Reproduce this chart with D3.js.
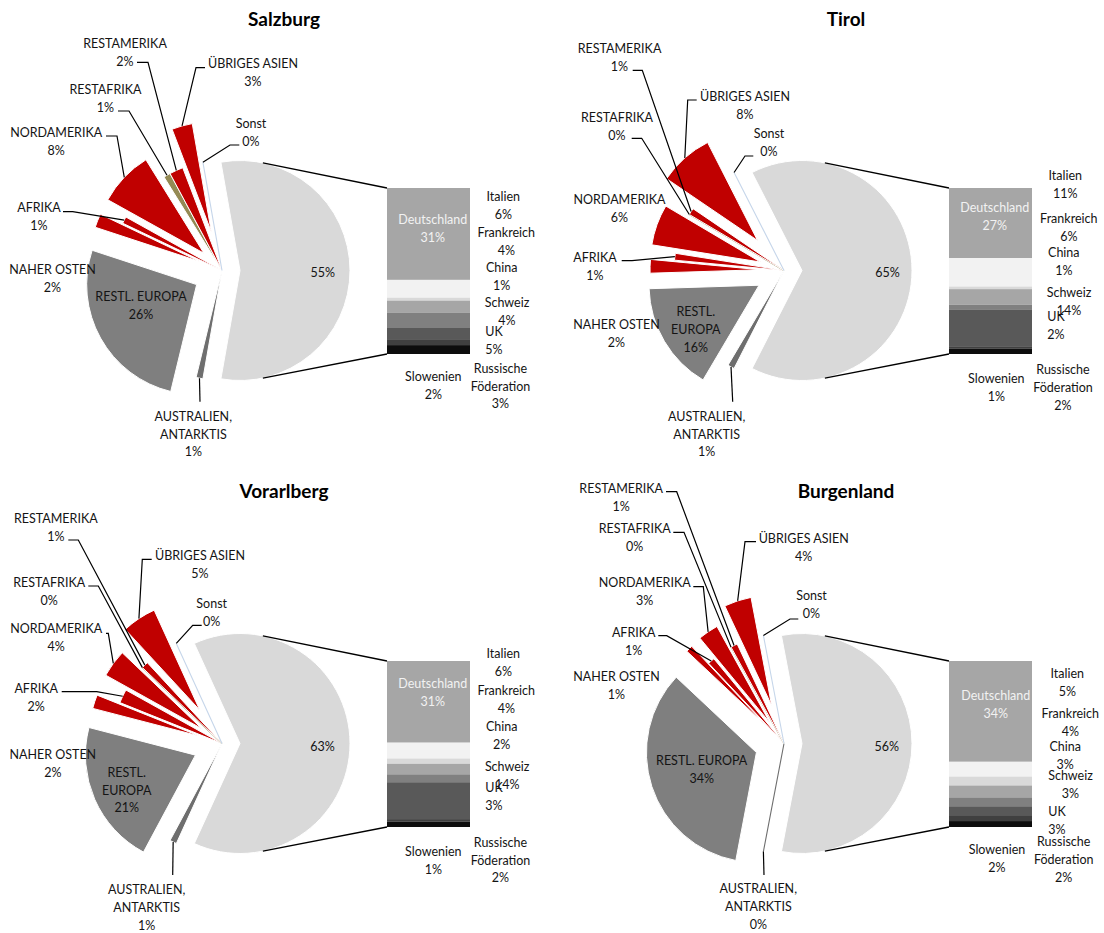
<!DOCTYPE html>
<html>
<head>
<meta charset="utf-8">
<script src="https://cdn.jsdelivr.net/npm/d3@7"></script>
<style>
  html, body { margin: 0; padding: 0; background: #ffffff; }
  svg { display: block; font-family: Lato, "Open Sans", sans-serif; }
</style>
</head>
<body>
<svg id="chart" width="1104" height="933"></svg>
<script>
// ---- Data -------------------------------------------------------------
const regions = ["Salzburg", "Tirol", "Vorarlberg", "Burgenland"];

// Pie categories (the first one is the aggregate broken down in the bar)
const pieCategories = ["Top-Märkte", "AUSTRALIEN, ANTARKTIS", "RESTL. EUROPA", "NAHER OSTEN",
  "AFRIKA", "NORDAMERIKA", "RESTAFRIKA", "RESTAMERIKA", "ÜBRIGES ASIEN", "Sonst"];

const salzburgPie   = [55, 1, 26, 2, 1, 8, 1, 2, 3, 0];
const tirolPie      = [65, 1, 16, 2, 1, 6, 0, 1, 8, 0];
const vorarlbergPie = [63, 1, 21, 2, 2, 4, 0, 1, 5, 0];
const burgenlandPie = [56, 0, 34, 1, 1, 3, 0, 1, 4, 0];

// Stacked bar categories (top to bottom)
const barCategories = ["Deutschland", "Italien", "China", "Frankreich", "UK", "Schweiz",
  "Slowenien", "Russische Föderation"];

const salzburgBar   = [31, 6, 1, 4, 5, 4, 2, 3];
const tirolBar      = [27, 11, 1, 6, 2, 14, 1, 2];
const vorarlbergBar = [31, 6, 2, 4, 3, 14, 1, 2];
const burgenlandBar = [34, 5, 3, 4, 3, 3, 2, 2];

const pieValues = [salzburgPie, tirolPie, vorarlbergPie, burgenlandPie];
const barValues = [salzburgBar, tirolBar, vorarlbergBar, burgenlandBar];

// ---- Styles -----------------------------------------------------------
const pieColors = ["#d9d9d9", "#6e6e6e", "#7f7f7f", "#c00000", "#c00000", "#c00000",
  "#948a54", "#c00000", "#c00000", "#c6d6ea"];
const barColors = ["#a6a6a6", "#f2f2f2", "#d9d9d9", "#a6a6a6", "#808080", "#595959", "#404040", "#0d0d0d"];
// distance each slice is pulled out of the pie
const explode = [18, 0, 29, 24, 0, 25, 0, 0, 40, 0];

// ---- Layout (panel-local coordinates) -------------------------------
const panelOrigins = [[0, 0], [562, 0], [0, 473], [562, 473]];
const titleY = [25.5, 25.5, 24.5, 24.5];
const PIE = { cx: 222, cy: 270.5, r: 110 };
const BAR = { x: 387, w: 83, top: 188, bottom: 354 };
const connectorAngles = [12, 168];   // degrees, clockwise from 12 o'clock
const lineGap = 17.8;
const fontSize = 12.5;

// label placement: x = centre, y = first baseline, leader = [startX, startY, elbowX]
const pieLabelLayout = [
  { // Salzburg
    "Top-Märkte": { x: 322.7, y: 276.7 },
    "AUSTRALIEN, ANTARKTIS": { x: 193.3, y: 420.7, wrap: true, leader: [200, 401.7, 200] },
    "RESTL. EUROPA": { x: 141, y: 301 },
    "NAHER OSTEN": { x: 52.5, y: 274.3 },
    "AFRIKA": { x: 39, y: 212.3, leader: [63, 211.7, 72.7] },
    "NORDAMERIKA": { x: 56.2, y: 136.7, leader: [106, 136, 117] },
    "RESTAFRIKA": { x: 105.5, y: 94.3, leader: [118, 111, 129] },
    "RESTAMERIKA": { x: 125, y: 47.7, leader: [137, 62.3, 148] },
    "ÜBRIGES ASIEN": { x: 253, y: 68.3, leader: [205, 67.7, 196] },
    "Sonst": { x: 251, y: 127.7, leader: [239.3, 145, 230] }
  },
  { // Tirol
    "Top-Märkte": { x: 325.5, y: 276.7 },
    "AUSTRALIEN, ANTARKTIS": { x: 144.7, y: 420.7, wrap: true, leader: [170.7, 401.7, 170.7] },
    "RESTL. EUROPA": { x: 133.8, y: 316, wrap: true },
    "NAHER OSTEN": { x: 54.5, y: 329 },
    "AFRIKA": { x: 33, y: 261.7, leader: [59.7, 260.7, 70] },
    "NORDAMERIKA": { x: 57.5, y: 204 },
    "RESTAFRIKA": { x: 55, y: 121.7, leader: [69.7, 138.3, 79.7] },
    "RESTAMERIKA": { x: 57.5, y: 53.3, leader: [70.7, 70.3, 80.3] },
    "ÜBRIGES ASIEN": { x: 183, y: 100.7, leader: [134.7, 100, 125.7] },
    "Sonst": { x: 207, y: 138.3, leader: [191.3, 156, 183] }
  },
  { // Vorarlberg
    "Top-Märkte": { x: 322.5, y: 278 },
    "AUSTRALIEN, ANTARKTIS": { x: 146.7, y: 421, wrap: true, leader: [172.7, 402, 172.7] },
    "RESTL. EUROPA": { x: 126.7, y: 303.7, wrap: true },
    "NAHER OSTEN": { x: 52.8, y: 286.3 },
    "AFRIKA": { x: 36.2, y: 219.7, leader: [61.7, 218.7, 96.7] },
    "NORDAMERIKA": { x: 56.2, y: 159.7, leader: [106, 160.3, 108.3] },
    "RESTAFRIKA": { x: 49.2, y: 113.7, leader: [88.3, 113, 98.3] },
    "RESTAMERIKA": { x: 55.8, y: 49.7, leader: [68.3, 67, 78.3] },
    "ÜBRIGES ASIEN": { x: 200, y: 87, leader: [151.7, 86.3, 142.3] },
    "Sonst": { x: 211.7, y: 135.3, leader: [201.7, 152.3, 192.7] }
  },
  { // Burgenland
    "Top-Märkte": { x: 324.7, y: 278 },
    "AUSTRALIEN, ANTARKTIS": { x: 196.3, y: 420.3, wrap: true, leader: [202, 402, 202] },
    "RESTL. EUROPA": { x: 139.7, y: 292 },
    "NAHER OSTEN": { x: 54.5, y: 207.7 },
    "AFRIKA": { x: 71.7, y: 163.7, leader: [96.3, 162.7, 104.7] },
    "NORDAMERIKA": { x: 82.7, y: 114.3, leader: [131.3, 113.7, 141.3] },
    "RESTAFRIKA": { x: 72.7, y: 60.3, leader: [111.3, 59.3, 122] },
    "RESTAMERIKA": { x: 59.2, y: 19.7, leader: [104, 18.7, 114.7] },
    "ÜBRIGES ASIEN": { x: 241.7, y: 69.7, leader: [194, 68.7, 183] },
    "Sonst": { x: 249.5, y: 127, leader: [236.3, 146, 228] }
  }
];

const barLabelLayout = [
  { "Deutschland": { x: 432.8, y: 224 }, "Italien": { x: 503.3, y: 200.7 }, "China": { x: 501.7, y: 271.7 },
    "Frankreich": { x: 506.3, y: 236.7 }, "UK": { x: 494, y: 336 }, "Schweiz": { x: 507, y: 306.7 },
    "Slowenien": { x: 433.3, y: 381 }, "Russische Föderation": { x: 500.5, y: 372.7, wrap: true } },
  { "Deutschland": { x: 432.8, y: 211.7 }, "Italien": { x: 503.3, y: 180 }, "China": { x: 501.8, y: 256.7 },
    "Frankreich": { x: 506.8, y: 223.3 }, "UK": { x: 494, y: 320.7 }, "Schweiz": { x: 507, y: 296.7 },
    "Slowenien": { x: 434.3, y: 383.3 }, "Russische Föderation": { x: 501, y: 374, wrap: true } },
  { "Deutschland": { x: 432.8, y: 215.3 }, "Italien": { x: 503.3, y: 185.3 }, "China": { x: 501.7, y: 257.7 },
    "Frankreich": { x: 506.3, y: 222 }, "UK": { x: 494, y: 319.3 }, "Schweiz": { x: 507.2, y: 297.7 },
    "Slowenien": { x: 433.3, y: 383 }, "Russische Föderation": { x: 500.5, y: 373.7, wrap: true } },
  { "Deutschland": { x: 433.8, y: 227 }, "Italien": { x: 505.3, y: 205.3 }, "China": { x: 503.2, y: 278 },
    "Frankreich": { x: 508.3, y: 245.3 }, "UK": { x: 495, y: 343 }, "Schweiz": { x: 508.5, y: 307 },
    "Slowenien": { x: 435, y: 381.3 }, "Russische Föderation": { x: 501.7, y: 373, wrap: true } }
];

// ---- Drawing ----------------------------------------------------------
const svg = d3.select("#chart");
const textColor = "#141414";

function labelLines(name, value, wrap) {
  const pct = value + "%";
  if (name === null) return [pct];
  if (!wrap) return [name, pct];
  if (name.includes(", ")) {
    const parts = name.split(", ");
    return [parts[0] + ",", parts.slice(1).join(", "), pct];
  }
  return name.split(" ").concat([pct]);
}

function drawLabel(g, pos, lines, color) {
  const t = g.append("text")
    .attr("x", pos.x).attr("y", pos.y)
    .attr("text-anchor", "middle")
    .attr("font-size", fontSize)
    .attr("fill", color || textColor);
  lines.forEach((line, i) => {
    t.append("tspan").attr("x", pos.x).attr("dy", i === 0 ? 0 : lineGap).text(line);
  });
}

regions.forEach((region, p) => {
  const [ox, oy] = panelOrigins[p];
  const g = svg.append("g").attr("transform", `translate(${ox},${oy})`);

  // title
  g.append("text")
    .attr("x", 284).attr("y", titleY[p])
    .attr("text-anchor", "middle")
    .attr("font-size", 19).attr("font-weight", 700)
    .attr("fill", "#000")
    .text(region);

  // pie
  const values = pieValues[p];
  const data = pieCategories.map((c, i) => ({ cat: c, v: values[i], i }));
  const total = d3.sum(values);
  const start = Math.PI / 2 - Math.PI * values[0] / total;
  const pie = d3.pie().sort(null).value(d => d.v).startAngle(start).endAngle(start + 2 * Math.PI);
  const arcs = pie(data);
  const arc = d3.arc().innerRadius(0).outerRadius(PIE.r);

  const offset = a => {
    const mid = (a.startAngle + a.endAngle) / 2;
    const d = explode[a.data.i];
    return [PIE.cx + d * Math.sin(mid), PIE.cy - d * Math.cos(mid), mid, d];
  };

  g.append("g").selectAll("path").data(arcs).join("path")
    .attr("d", arc)
    .attr("transform", a => { const [x, y] = offset(a); return `translate(${x},${y})`; })
    .attr("fill", a => pieColors[a.data.i])
    .attr("stroke", a => a.data.v === 0 ? pieColors[a.data.i] : "#ffffff")
    .attr("stroke-width", a => a.data.v === 0 ? 1.1 : 1);

  // connectors from the aggregate slice to the bar
  const big = arcs[0];
  const [bx, by] = offset(big);
  const barY = d3.scaleLinear().domain([0, d3.sum(barValues[p])]).range([BAR.top, BAR.bottom]);
  connectorAngles.forEach((deg, k) => {
    const ang = deg * Math.PI / 180;
    g.append("line")
      .attr("x1", bx + PIE.r * Math.sin(ang)).attr("y1", by - PIE.r * Math.cos(ang))
      .attr("x2", BAR.x).attr("y2", k === 0 ? barY.range()[0] : barY.range()[1])
      .attr("stroke", "#000").attr("stroke-width", 1.3);
  });

  // leader lines and pie labels
  const layout = pieLabelLayout[p];
  arcs.forEach(a => {
    const pos = layout[a.data.cat];
    if (!pos) return;
    if (pos.leader) {
      const [, , mid, d] = offset(a);
      const ex = PIE.cx + (PIE.r + d) * Math.sin(mid);
      const ey = PIE.cy - (PIE.r + d) * Math.cos(mid);
      const [sx, sy, hx] = pos.leader;
      g.append("path")
        .attr("d", `M${sx},${sy}H${hx}L${ex},${ey}`)
        .attr("fill", "none").attr("stroke", "#000").attr("stroke-width", 1.2);
    }
    const name = a.data.i === 0 ? null : a.data.cat;
    drawLabel(g, pos, labelLines(name, a.data.v, pos.wrap));
  });

  // stacked bar
  const bv = barValues[p];
  const cum = d3.cumsum(bv);
  const segs = barCategories.map((c, i) => ({ cat: c, v: bv[i], y0: cum[i] - bv[i], y1: cum[i], i }));
  g.append("g").selectAll("rect").data(segs).join("rect")
    .attr("x", BAR.x).attr("width", BAR.w)
    .attr("y", d => barY(d.y0))
    .attr("height", d => barY(d.y1) - barY(d.y0))
    .attr("fill", d => barColors[d.i]);

  const bl = barLabelLayout[p];
  segs.forEach(s => {
    const pos = bl[s.cat];
    drawLabel(g, pos, labelLines(s.cat, s.v, pos.wrap), s.i === 0 ? "#f2f2f2" : textColor);
  });
});
</script>
</body>
</html>
